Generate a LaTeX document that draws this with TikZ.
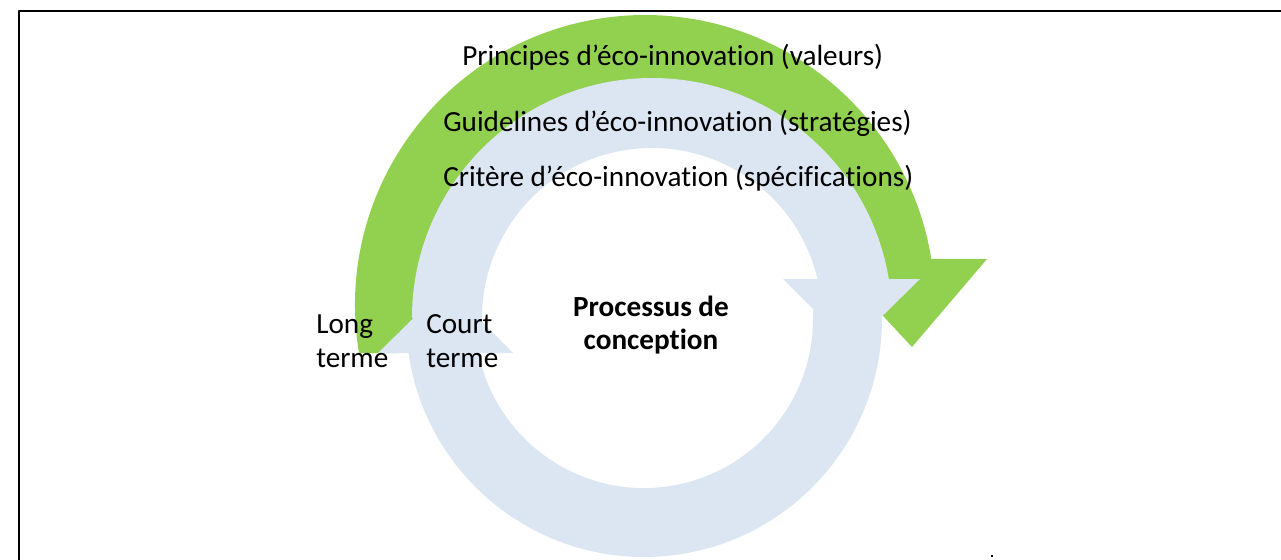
\documentclass[tikz,border=0pt]{standalone}
\usepackage{fontspec}
\setmainfont{Carlito}[Ligatures=NoCommon]
\usetikzlibrary{calc}

\definecolor{ecogreen}{HTML}{92D050}
\definecolor{cycleblue}{HTML}{DCE6F2}

\tikzset{
  level text/.style={font=\fontsize{21.9}{25.5}\selectfont, inner sep=0pt, align=left, anchor=base west},
  core text/.style={font=\fontsize{21.9}{24.75}\selectfont\bfseries, inner sep=0pt, align=center, anchor=base},
}

\begin{document}
\begin{tikzpicture}[x=0.75pt, y=-0.75pt, line join=round]
    % parameters (pixel units, y pointing down)
    \def\Gout{290}
    \def\Gin{220}
    \def\Uout{240}
    \def\Uin{170}
    \def\Lout{238}
    \def\Lin{169}

    \useasboundingbox (0,0) rectangle (1281,560);

    % frame, top and left edges only
    \draw[line width=1.5pt] (19,560) -- (19,11) -- (1281,11);

    % centres of the arcs
    \coordinate (G) at (645,305);
    \coordinate (U) at (652,318);
    \coordinate (L) at (644,319);

    % green long-term arrow
    \fill[ecogreen] ($(G)+(170.47:\Gout)$)
        arc[start angle=170.47, end angle=350.87, radius=\Gout]
        -- (987,259) -- (912,347) -- (830,259)
        -- ($(G)+(347.93:\Gin)$)
        arc[start angle=347.93, end angle=167.4, radius=\Gin] -- cycle;

    % blue design cycle, upper half and its head
    \fill[cycleblue] ($(U)+(180:\Uout)$)
        arc[start angle=180, end angle=350.65, radius=\Uout]
        -- ($(U)+(346.74:\Uin)$)
        arc[start angle=346.74, end angle=180, radius=\Uin] -- cycle;
    \fill[cycleblue] (783,279) -- (920,279) -- (851,347) -- cycle;

    % blue design cycle, lower half and its head
    \fill[cycleblue] ($(L)+(-3:\Lout)$)
        arc[start angle=-3, end angle=171.79, radius=\Lout]
        -- ($(L)+(168.4:\Lin)$)
        arc[start angle=168.4, end angle=-3, radius=\Lin] -- cycle;
    \fill[cycleblue] (378,353) -- (513,353) -- (446,286) -- cycle;

    % levels of eco-innovation
    \node[level text] (principes) at (462,66) {Principes d’éco-innovation (valeurs)};
    \node[level text] (guidelines) at (443,131) {Guidelines d’éco-innovation (stratégies)};
    \node[level text] (critere) at (443,186) {Critère d’éco-innovation (spécifications)};

    % time horizons (anchored on the last line)
    \node[level text] (long) at (316,367) {Long\\terme};
    \node[level text] (court) at (426,367) {Court\\terme};

    % centre of the cycle
    \node[core text] (process) at (651,349) {Processus de\\conception};

    % stray mark
    \fill (990.5,554.5) rectangle (992.5,556.5);
  \end{tikzpicture}
\end{document}
